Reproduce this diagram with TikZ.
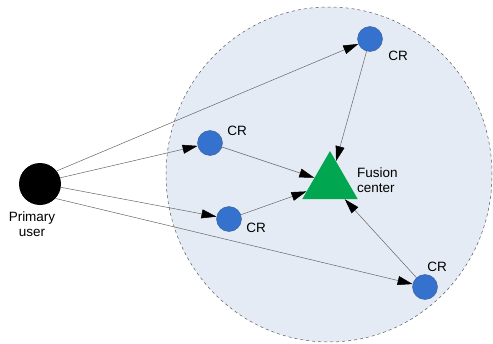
\documentclass[tikz,border=0pt]{standalone}
\usepackage{fontspec}
\setmainfont{Liberation Sans}
\usetikzlibrary{shapes.geometric,arrows.meta}
\definecolor{areafill}{RGB}{229,235,245}
\definecolor{crblue}{RGB}{52,114,205}
\definecolor{crborder}{RGB}{60,90,150}
\definecolor{fcgreen}{RGB}{0,166,80}
\tikzset{
  crnode/.style={circle,fill=crblue,draw=crborder,line width=0.4pt,minimum size=25pt,inner sep=0pt},
  lbl/.style={font=\fontsize{13.5}{15.5}\selectfont,inner sep=0pt},
  link/.style={draw=gray!80!black,line width=0.5pt,-{Triangle[length=15pt,width=9pt,color=black]}},
}
\begin{document}
\begin{tikzpicture}[x=1pt,y=-1pt]
\useasboundingbox (0,0) rectangle (493,343);
\begin{scope}
\clip (0,0) rectangle (493,343);
\node[ellipse,fill=areafill,draw=gray!70!black,dashed,line width=0.5pt,minimum width=326pt,minimum height=335pt,inner sep=0pt] (area) at (329,174.5) {};
\end{scope}
\node[circle,fill=black,minimum size=42pt,inner sep=0pt] (pu) at (40,184) {};
\node[lbl,align=center] (pulbl) at (32,224) {Primary\\user};
\node[crnode] (cr1) at (370,39) {};
\node[crnode] (cr2) at (210,143) {};
\node[crnode] (cr3) at (229,219) {};
\node[crnode] (cr4) at (425,287) {};
\node[lbl] (l1) at (398,56) {CR};
\node[lbl] (l2) at (237,131) {CR};
\node[lbl] (l3) at (256,228) {CR};
\node[lbl] (l4) at (437,267) {CR};
\node[regular polygon,regular polygon sides=3,fill=fcgreen,minimum size=64pt,inner sep=0pt] (fc) at (330,183) {};
\node[lbl,align=left,anchor=west] (fclbl) at (357,180) {Fusion\\center};
\draw[link] (pu.38) -- (cr1);
\draw[link] (pu.17) -- (cr2);
\draw[link] (pu.-9) -- (cr3);
\draw[link] (pu.-43) -- (cr4);
\draw[link] (cr1) -- (fc);
\draw[link] (cr2) -- (fc);
\draw[link] (cr3) -- (fc);
\draw[link] (cr4) -- (fc);
\end{tikzpicture}
\end{document}
